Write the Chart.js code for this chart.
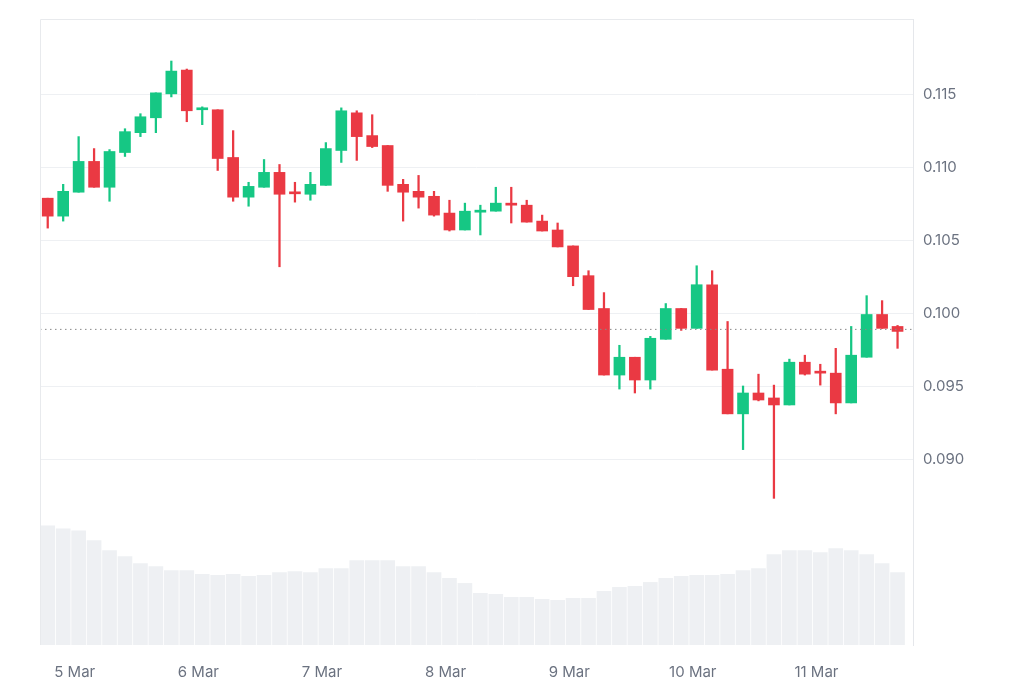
<!DOCTYPE html>
<html>
<head>
<meta charset="utf-8">
<script src="https://cdn.jsdelivr.net/npm/chart.js@4.4.1/dist/chart.umd.min.js"></script>
<style>
  html, body { margin: 0; padding: 0; background: #fff; }
  #wrap { width: 1024px; height: 683px; }
</style>
</head>
<body>
<div id="wrap"><canvas id="chart"></canvas></div>
<script>
// 3h candles, 5 Mar - 11 Mar
const opens  = [0.10792,0.10669,0.10833,0.11044,0.10867,0.11105,0.11241,0.11343,0.11507,0.11670,0.11398,0.11398,0.11071,0.10799,0.10867,0.10969,0.10826,0.10819,0.10880,0.11119,0.11377,0.11221,0.11153,0.10887,0.10839,0.10805,0.10690,0.10574,0.10696,0.10703,0.10758,0.10744,0.10635,0.10574,0.10465,0.10261,0.10036,0.09580,0.09702,0.09546,0.09825,0.10036,0.09900,0.10199,0.09620,0.09314,0.09457,0.09423,0.09375,0.09668,0.09600,0.09593,0.09389,0.09702,0.09995,0.09913];
const highs  = [0.10792,0.10887,0.11214,0.11132,0.11125,0.11268,0.11371,0.11514,0.11732,0.11677,0.11418,0.11398,0.11255,0.10901,0.11057,0.11023,0.10901,0.10969,0.11173,0.11411,0.11391,0.11364,0.11153,0.10921,0.10948,0.10839,0.10778,0.10758,0.10744,0.10867,0.10867,0.10778,0.10676,0.10622,0.10465,0.10295,0.10145,0.09784,0.09702,0.09845,0.10070,0.10036,0.10329,0.10295,0.09947,0.09505,0.09586,0.09511,0.09689,0.09716,0.09654,0.09763,0.09913,0.10124,0.10090,0.09920];
const lows   = [0.10587,0.10635,0.10833,0.10867,0.10771,0.11078,0.11214,0.11241,0.11486,0.11316,0.11296,0.10982,0.10771,0.10737,0.10867,0.10322,0.10765,0.10778,0.10880,0.11037,0.11051,0.11139,0.10839,0.10635,0.10724,0.10669,0.10567,0.10574,0.10540,0.10703,0.10622,0.10628,0.10567,0.10458,0.10192,0.10029,0.09580,0.09484,0.09457,0.09484,0.09825,0.09886,0.09900,0.09614,0.09314,0.09069,0.09403,0.08735,0.09375,0.09580,0.09511,0.09314,0.09389,0.09702,0.09900,0.09763];
const closes = [0.10669,0.10839,0.11044,0.10867,0.11112,0.11248,0.11350,0.11514,0.11663,0.11391,0.11405,0.11064,0.10799,0.10873,0.10969,0.10819,0.10822,0.10887,0.11132,0.11391,0.11214,0.11146,0.10880,0.10833,0.10799,0.10676,0.10574,0.10703,0.10710,0.10758,0.10744,0.10628,0.10567,0.10458,0.10254,0.10029,0.09580,0.09702,0.09546,0.09832,0.10036,0.09900,0.10199,0.09614,0.09314,0.09457,0.09409,0.09375,0.09668,0.09586,0.09593,0.09389,0.09716,0.09995,0.09900,0.09879];
const volumes = [120,117,115,105,95,89,82,79,75,75,71,70,71,69,70,73,74,73,77,77,85,85,85,79,79,73,67,62,52,51,48,48,46,45,47,47,54,58,59,63,67,69,70,70,71,75,77,91,95,95,93,97,95,91,82,73];
const dayTicks = [1.75, 9.75, 17.75, 25.75, 33.75, 41.75, 49.75];
const dayLabels = ['5 Mar', '6 Mar', '7 Mar', '8 Mar', '9 Mar', '10 Mar', '11 Mar'];
const lastPrice = 0.09893;
const yTicks = [0.090, 0.095, 0.100, 0.105, 0.110, 0.115];

const UP = '#16c784', DOWN = '#ea3943';
const idx = opens.map((_, i) => i);
const colors = idx.map(i => closes[i] >= opens[i] ? UP : DOWN);

new Chart(document.getElementById('chart'), {
    data: {
        datasets: [
            {
                type: 'bar', order: 3, yAxisID: 'vol', grouped: false,
                data: idx.map(i => ({ x: i, y: volumes[i] })),
                backgroundColor: '#eef0f3', barThickness: 14
            },
            {
                type: 'line', order: 0,
                data: [{ x: -0.5, y: lastPrice }, { x: 56, y: lastPrice }],
                borderColor: '#888', borderWidth: 1, borderDash: [1.5, 3.5],
                pointRadius: 0
            },
            {
                type: 'bar', order: 2, grouped: false,
                data: idx.map(i => ({ x: i, y: [lows[i], highs[i]] })),
                backgroundColor: colors, barThickness: 1.6
            },
            {
                type: 'bar', order: 1, grouped: false,
                data: idx.map(i => ({ x: i, y: [opens[i], closes[i]] })),
                backgroundColor: colors, barThickness: 11, minBarLength: 2
            }
        ]
    },
    options: {
        responsive: true,
        maintainAspectRatio: false,
        animation: false,
        layout: { padding: { left: 40, top: 8, right: 0, bottom: 0 } },
        plugins: { legend: { display: false }, tooltip: { enabled: false } },
        scales: {
            x: {
                type: 'linear', min: -0.5, max: 56, offset: false,
                afterBuildTicks: s => { s.ticks = dayTicks.map(v => ({ value: v })); },
                afterFit: s => { s.height = 38; },
                ticks: {
                    callback: (v) => dayLabels[dayTicks.indexOf(v)] ?? '',
                    color: '#6b7280', font: { family: 'Inter', size: 15 }, padding: 10,
                    maxRotation: 0, autoSkip: false
                },
                grid: { display: false },
                border: { display: false }
            },
            y: {
                position: 'right', min: 0.0773, max: 0.1202,
                afterBuildTicks: s => { s.ticks = yTicks.map(v => ({ value: v })); },
                afterFit: s => { s.width = 111; },
                ticks: {
                    callback: v => v.toFixed(3),
                    color: '#6b7280', font: { family: 'Inter', size: 15 }, padding: 10
                },
                grid: { color: '#eef0f3', drawTicks: false },
                border: { display: true, color: '#e5e7eb' }
            },
            vol: { display: false, min: 0, max: 630 }
        }
    },
    plugins: [{
        id: 'frame',
        afterDraw(chart) {
            const { ctx, chartArea: a } = chart;
            ctx.save();
            ctx.strokeStyle = '#e8eaed';
            ctx.lineWidth = 1;
            ctx.beginPath();
            ctx.moveTo(a.left + 0.5, a.bottom);
            ctx.lineTo(a.left + 0.5, a.top + 0.5);
            ctx.lineTo(a.right, a.top + 0.5);
            ctx.stroke();
            ctx.restore();
        }
    }]
});
</script>
</body>
</html>
